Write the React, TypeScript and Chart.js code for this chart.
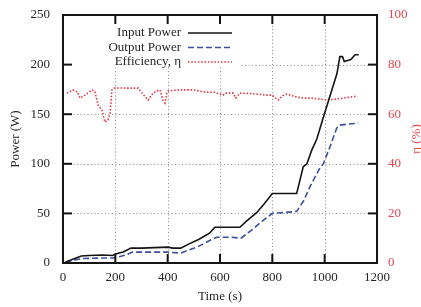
import React, { useEffect, useRef } from 'react';
import { Chart, registerables } from 'chart.js';

Chart.register(...registerables);

// ---- data ----
const inputTime = [10, 30, 50, 70, 100, 150, 190, 200, 230, 260, 300, 350, 400, 420, 450, 480, 520, 560, 580, 620, 676, 700, 741, 770, 800, 850, 893, 906, 918, 932, 951, 970, 995, 1020, 1047, 1058, 1068, 1075, 1100, 1116, 1130];
const inputPower = [1, 3, 5, 7, 7.5, 8, 7.5, 9, 11, 15, 15, 15.5, 16, 15, 15, 19, 24, 30, 36, 36, 36, 42, 51, 60, 70, 70, 70, 84, 97, 100, 114, 125, 147, 168, 191, 208, 208, 203, 205, 210, 210];

const outputTime = [10, 40, 80, 150, 190, 210, 240, 265, 320, 400, 450, 480, 520, 562, 588, 640, 680, 720, 760, 800, 850, 893, 920, 944, 970, 982, 995, 1020, 1035, 1046, 1058, 1090, 1128];
const outputPower = [0.5, 3, 4.5, 5, 5, 6, 8, 11, 11, 11, 10, 13, 17, 23, 26, 26, 25, 33, 42, 50, 51, 52, 63, 77, 90, 96, 100, 117, 128, 136, 139, 140, 141];

const effTime = [15, 38, 55, 65, 84, 111, 122, 134, 149, 160, 172, 180, 187, 199, 250, 287, 310, 325, 344, 359, 371, 382, 390, 397, 401, 450, 500, 535, 580, 612, 619, 650, 660, 676, 720, 779, 798, 822, 840, 856, 893, 918, 950, 982, 1008, 1046, 1090, 1124];
const effValue = [68.5, 69.8, 69, 66.5, 67.7, 69.8, 69, 63.7, 61.7, 56.8, 57.7, 60.4, 69.8, 70.6, 70.5, 70.5, 67.5, 65.7, 68.5, 69.4, 69.8, 65.7, 64.5, 68.5, 69.4, 69.8, 69.8, 69, 68.8, 67.7, 68.5, 68.5, 66.5, 68.5, 68.3, 67.7, 67.7, 65.7, 67.5, 68.1, 66.9, 66.5, 66.5, 66.1, 65.7, 66.1, 66.8, 67.3];

const xTicks = [0, 200, 400, 600, 800, 1000, 1200];
const yTicks = [0, 50, 100, 150, 200, 250];
const y2Ticks = [0, 20, 40, 60, 80, 100];

const seriesLabels = ['Input Power', 'Output Power', 'Efficiency, \u03b7'];
const xTitle = 'Time (s)';
const yTitle = 'Power (W)';
const y2Title = '\u03b7 (%)';

// ---- styles ----
const FONT = "'Liberation Serif', 'Times New Roman', Times, serif";
const BLACK = '#141414';
const BLUE = '#3b4f9e';
const RED = '#e3343f';
const RED_TEXT = '#e2464f';
const TEXT = '#262626';

const pts = (xs: number[], ys: number[]) => xs.map((x, i) => ({ x, y: ys[i] }));

const framePlugin = {
  id: 'frame',
  beforeDatasetsDraw(chart: any) {
    const { ctx, chartArea: a, scales } = chart;
    ctx.save();
    ctx.strokeStyle = '#8c8c8c';
    ctx.lineWidth = 1;
    ctx.setLineDash([1, 2.5]);
    xTicks.slice(1, -1).forEach((v) => {
      const px = Math.round(scales.x.getPixelForValue(v)) + 0.5;
      ctx.beginPath();
      ctx.moveTo(px, a.top);
      ctx.lineTo(px, a.bottom);
      ctx.stroke();
    });
    yTicks.slice(1, -1).forEach((v) => {
      const py = Math.round(scales.y.getPixelForValue(v)) + 0.5;
      ctx.beginPath();
      ctx.moveTo(a.left, py);
      ctx.lineTo(a.right, py);
      ctx.stroke();
    });
    ctx.setLineDash([]);
    ctx.fillStyle = '#ffffff';
    ctx.fillRect(a.left, a.top, 177, 51);
    ctx.restore();
  },
  afterDatasetsDraw(chart: any) {
    const { ctx, chartArea: a, scales } = chart;
    ctx.save();
    ctx.strokeStyle = BLACK;
    ctx.lineWidth = 2;
    const TL = 9;
    xTicks.slice(1, -1).forEach((v) => {
      const px = scales.x.getPixelForValue(v);
      ctx.beginPath();
      ctx.moveTo(px, a.bottom);
      ctx.lineTo(px, a.bottom - TL);
      ctx.moveTo(px, a.top);
      ctx.lineTo(px, a.top + TL);
      ctx.stroke();
    });
    yTicks.slice(1, -1).forEach((v) => {
      const py = scales.y.getPixelForValue(v);
      ctx.beginPath();
      ctx.moveTo(a.left, py);
      ctx.lineTo(a.left + TL, py);
      ctx.stroke();
    });
    y2Ticks.slice(1, -1).forEach((v) => {
      const py = scales.y1.getPixelForValue(v);
      ctx.beginPath();
      ctx.moveTo(a.right, py);
      ctx.lineTo(a.right - TL, py);
      ctx.stroke();
    });
    ctx.strokeRect(a.left, a.top, a.right - a.left, a.bottom - a.top);

    // legend
    ctx.font = `13px ${FONT}`;
    ctx.textAlign = 'right';
    ctx.textBaseline = 'middle';
    const styles = [
      { c: BLACK, d: [] as number[], w: 1.6 },
      { c: BLUE, d: [6, 3], w: 1.6 },
      { c: RED, d: [1.5, 1.8], w: 1.6 },
    ];
    seriesLabels.forEach((lab, i) => {
      const y = a.top + 18 + i * 14.5;
      ctx.fillStyle = TEXT;
      ctx.fillText(lab, a.left + 118, y);
      ctx.strokeStyle = styles[i].c;
      ctx.lineWidth = styles[i].w;
      ctx.setLineDash(styles[i].d);
      ctx.beginPath();
      ctx.moveTo(a.left + 125, y);
      ctx.lineTo(a.left + 169, y);
      ctx.stroke();
    });
    ctx.setLineDash([]);

    // right title
    ctx.translate(a.right + 40, (a.top + a.bottom) / 2);
    ctx.rotate(-Math.PI / 2);
    ctx.textAlign = 'center';
    ctx.fillStyle = RED_TEXT;
    ctx.fillText(y2Title, 0, 0);
    ctx.restore();
  },
};

export default function App() {
  const ref = useRef<HTMLCanvasElement | null>(null);
  useEffect(() => {
    document.body.style.margin = '0';
    const canvas = ref.current;
    if (!canvas) return;
    const tickFont = { family: FONT, size: 13 };
    const plain = (v: any) => String(v);
    const fitV = (w: number) => (s: any) => {
      s.width = w;
      s.paddingTop = 0;
      s.paddingBottom = 0;
    };
    const chart = new Chart(canvas, {
      type: 'line',
      data: {
        datasets: [
          {
            label: seriesLabels[0],
            data: pts(inputTime, inputPower),
            borderColor: BLACK,
            borderWidth: 1.6,
            pointRadius: 0,
            yAxisID: 'y',
          },
          {
            label: seriesLabels[1],
            data: pts(outputTime, outputPower),
            borderColor: BLUE,
            borderWidth: 1.6,
            borderDash: [6, 3],
            pointRadius: 0,
            yAxisID: 'y',
          },
          {
            label: seriesLabels[2],
            data: pts(effTime, effValue),
            borderColor: RED,
            borderWidth: 1.6,
            borderDash: [1.5, 1.8],
            pointRadius: 0,
            yAxisID: 'y1',
          },
        ],
      },
      options: {
        animation: false,
        responsive: false,
        devicePixelRatio: 1,
        layout: { padding: { top: 15, left: 0, right: 0, bottom: 0 } },
        plugins: { legend: { display: false }, tooltip: { enabled: false } },
        scales: {
          x: {
            type: 'linear',
            min: 0,
            max: 1200,
            afterBuildTicks: (s: any) => {
              s.ticks = xTicks.map((v) => ({ value: v }));
            },
            afterFit: (s: any) => {
              s.height = 44;
            },
            grid: { display: false, drawTicks: false },
            border: { display: false },
            ticks: { font: tickFont, color: TEXT, padding: 7, maxRotation: 0, autoSkip: false, callback: plain },
            title: { display: true, text: xTitle, font: tickFont, color: TEXT, padding: { top: 0, bottom: 3 } },
          },
          y: {
            type: 'linear',
            position: 'left',
            min: 0,
            max: 250,
            afterBuildTicks: (s: any) => {
              s.ticks = yTicks.map((v) => ({ value: v }));
            },
            afterFit: fitV(63),
            grid: { display: false, drawTicks: false },
            border: { display: false },
            ticks: { font: tickFont, color: TEXT, padding: 13, callback: plain },
            title: { display: true, text: yTitle, font: tickFont, color: TEXT, padding: { top: 8, bottom: 0 } },
          },
          y1: {
            type: 'linear',
            position: 'right',
            min: 0,
            max: 100,
            afterBuildTicks: (s: any) => {
              s.ticks = y2Ticks.map((v) => ({ value: v }));
            },
            afterFit: fitV(44),
            grid: { display: false, drawTicks: false },
            border: { display: false },
            ticks: { font: tickFont, color: RED_TEXT, padding: 11, callback: plain },
          },
        },
      },
      plugins: [framePlugin],
    } as any);
    return () => chart.destroy();
  }, []);
  return <canvas ref={ref} width={421} height={307} style={{ display: 'block', width: 421, height: 307 }} />;
}
